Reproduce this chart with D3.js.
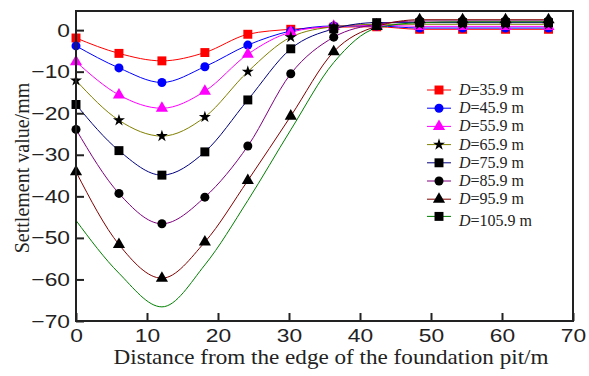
<!DOCTYPE html>
<html><head><meta charset="utf-8">
<script src="https://cdn.jsdelivr.net/npm/d3@7"></script>
<style>body{margin:0;background:#fff}svg{display:block}</style>
</head><body>
<script>
const xValues = [0, 6.05, 12.1, 18.15, 24.2, 30.25, 36.3, 42.35, 48.4, 54.45, 60.5, 66.55];
const seriesNames = ["35.9", "45.9", "55.9", "65.9", "75.9", "85.9", "95.9", "105.9"];
const s35 = [-1.9, -5.6, -7.4, -5.4, -1.0, 0.2, 0.7, 0.8, 0.2, 0.2, 0.2, 0.2];
const s45 = [-3.8, -9.1, -12.6, -8.8, -3.6, -0.2, 1.0, 1.0, 0.5, 0.5, 0.5, 0.5];
const s55 = [-7.6, -15.6, -18.8, -14.7, -5.8, -0.5, 0.9, 1.2, 0.9, 0.9, 0.9, 0.9];
const s65 = [-12.1, -21.7, -25.5, -20.9, -10.0, -1.7, 0.8, 1.4, 1.4, 1.4, 1.4, 1.4];
const s75 = [-17.9, -29.0, -34.9, -29.3, -16.8, -4.5, 0.3, 1.8, 1.8, 1.8, 1.8, 1.8];
const s85 = [-23.9, -39.3, -46.6, -40.2, -27.9, -10.5, -1.7, 1.4, 2.2, 2.2, 2.2, 2.2];
const s95 = [-34.1, -51.6, -59.7, -51.0, -36.2, -20.7, -5.2, 0.9, 2.5, 2.5, 2.5, 2.5];
const s105 = [-45.8, -58.5, -66.6, -56.5, -41.0, -24.0, -7.8, 0.5, 1.8, 2.0, 2.0, 2.0];
const allSeries = [s35, s45, s55, s65, s75, s85, s95, s105];
const lineColors = ["#ff0000", "#0000ff", "#ff00ff", "#808000", "#000080", "#800080", "#800000", "#008000"];
const markerFills = ["#ff0000", "#0000ff", "#ff00ff", "#000000", "#000000", "#000000", "#000000", "#000000"];
const markerShapes = ["square", "circle", "triangle", "star", "square", "circle", "triangle", "square"];
const markerOnCurve = [true, true, true, true, true, true, true, false];
const xTicks = [0, 10, 20, 30, 40, 50, 60, 70];
const yTicks = [0, -10, -20, -30, -40, -50, -60, -70];

const W = 589, H = 376;
const L = 76, R = 573, T = 11, B = 321;
const SX = 1.2;
const svg = d3.select("body").append("svg").attr("width", W).attr("height", H)
  .style("font-family", "'Liberation Serif', 'Times New Roman', serif");

const x = d3.scaleLinear().domain([0, 70]).range([L, R]);
const y = d3.scaleLinear().domain([-70, 4.6]).range([B, T]);

const symMap = {square: d3.symbolSquare, circle: d3.symbolCircle, triangle: d3.symbolTriangle, star: d3.symbolStar};
const symSize = {square: 80, circle: 64, triangle: 64, star: 45};
function sym(shape){ return d3.symbol().type(symMap[shape]).size(symSize[shape])(); }

const line = d3.line().x((d,i)=>x(xValues[i])).y(d=>y(d)).curve(d3.curveMonotoneX);
const plot = svg.append("g");
allSeries.forEach((s, k) => {
  plot.append("path").attr("d", line(s)).attr("fill","none")
    .attr("stroke", lineColors[k]).attr("stroke-width", 1);
});
allSeries.forEach((s, k) => {
  if (!markerOnCurve[k]) return;
  plot.selectAll(null).data(s).enter().append("path")
    .attr("d", sym(markerShapes[k]))
    .attr("transform", (d,i)=>`translate(${x(xValues[i])},${y(d)})`)
    .attr("fill", markerFills[k]);
});

// frame
svg.append("rect").attr("x", L).attr("y", T).attr("width", R-L).attr("height", B-T)
  .attr("fill","none").attr("stroke","#222").attr("stroke-width",2);

// axes
const xAxis = d3.axisBottom(x).tickValues(xTicks).tickSize(-8).tickPadding(4).tickFormat(d=>d);
const gx = svg.append("g").attr("transform", `translate(0,${B})`).call(xAxis);
gx.select(".domain").remove();
gx.selectAll(".tick line").attr("stroke","#222").attr("stroke-width",2);
gx.selectAll(".tick text").attr("font-size", 19).attr("fill","#222").attr("dy","0.75em").attr("y", 7)
  .attr("transform", `scale(${SX},1)`);

const yAxis = d3.axisLeft(y).tickValues(yTicks).tickSize(-8).tickPadding(6)
  .tickFormat(d => d < 0 ? "\u2212" + Math.abs(d) : String(d));
const gy = svg.append("g").attr("transform", `translate(${L},0)`).call(yAxis);
gy.select(".domain").remove();
gy.selectAll(".tick line").attr("stroke","#222").attr("stroke-width",2);
gy.selectAll(".tick text").attr("font-size", 19).attr("fill","#222").attr("x", -6/SX)
  .attr("transform", `scale(${SX},1)`);

svg.append("text").attr("x", 331).attr("y", 364).attr("text-anchor","middle")
  .attr("font-size", 21).attr("fill","#222")
  .attr("textLength", 435).attr("lengthAdjust","spacingAndGlyphs")
  .text("Distance from the edge of the foundation pit/m");
svg.append("text").attr("transform","translate(29,168) rotate(-90)").attr("text-anchor","middle")
  .attr("font-size", 20).attr("fill","#222").text("Settlement value/mm");

// legend
const lg = svg.append("g");
seriesNames.forEach((n, k) => {
  const yy = 90 + k*18.2 + (k===7 ? -1 : 0);
  lg.append("line").attr("x1", 427).attr("x2", 451).attr("y1", yy).attr("y2", yy)
    .attr("stroke", lineColors[k]).attr("stroke-width", 1);
  lg.append("path").attr("d", sym(markerShapes[k])).attr("transform", `translate(439,${yy})`)
    .attr("fill", markerFills[k]);
  const t = lg.append("text").attr("x", 459).attr("y", yy + 5 + (k===7 ? 5 : 0)).attr("font-size", 16).attr("fill","#222");
  t.append("tspan").attr("font-style","italic").text("D");
  t.append("tspan").text("=" + n + " m");
});
</script>
</body></html>
